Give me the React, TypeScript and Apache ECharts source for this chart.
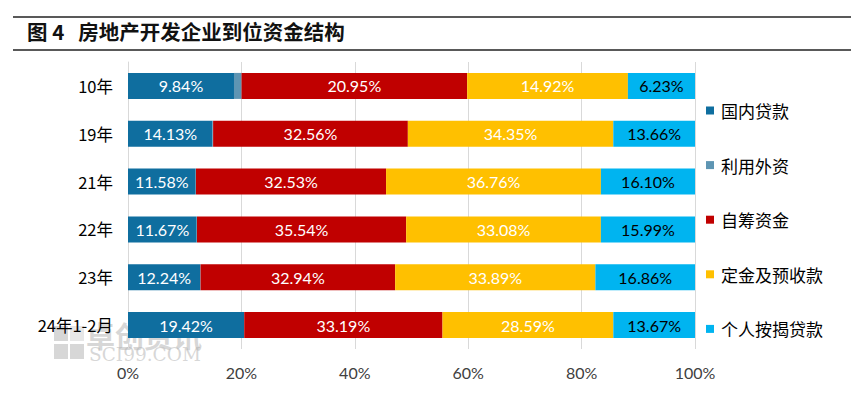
import React, { useEffect, useRef } from "react";
import * as echarts from "echarts";

const categories = ["10年", "19年", "21年", "22年", "23年", "24年1-2月"];
const seriesNames = ["国内贷款", "利用外资", "自筹资金", "定金及预收款", "个人按揭贷款"];
const domesticLoans = [9.84, 14.13, 11.58, 11.67, 12.24, 19.42];
const foreignCapital = [0.7, 0.1, 0.05, 0.05, 0.04, 0.03];
const selfRaised = [20.95, 32.56, 32.53, 35.54, 32.94, 33.19];
const deposits = [14.92, 34.35, 36.76, 33.08, 33.89, 28.59];
const mortgages = [6.23, 13.66, 16.1, 15.99, 16.86, 13.67];
const xTickLabels = ["0%", "20%", "40%", "60%", "80%", "100%"];

const colors = ["#0F6E9F", "#5E95B3", "#C00000", "#FFC000", "#00B4F0"];
const labelColors = ["#FFFFFF", "#FFFFFF", "#FFFFFF", "#FFFFFF", "#000000"];

export default function App() {
  const ref = useRef<HTMLDivElement>(null);
  useEffect(() => {
    if (!ref.current) return;
    const chart = echarts.init(ref.current, null, { renderer: "svg" });
    const raw = [domesticLoans, foreignCapital, selfRaised, deposits, mortgages];
    const totals = categories.map((_, i) => raw.reduce((s, arr) => s + arr[i], 0));
    const series = raw.map((arr, k) => ({
      name: seriesNames[k],
      type: "bar",
      stack: "total",
      barWidth: 26,
      z: 5,
      itemStyle: { color: colors[k] },
      data: arr.map((v, i) => ({ value: (v / totals[i]) * 100, raw: v })),
      label: {
        show: k !== 1,
        position: "inside",
        color: labelColors[k],
        fontFamily: "Lato",
        fontSize: 16,
        formatter: (p: any) => p.data.raw.toFixed(2) + "%",
      },
    }));
    const wm = "rgba(175,175,175,0.5)";
    chart.setOption({
      animation: false,
      textStyle: { fontFamily: "Lato" },
      grid: { left: 128, right: 169, top: 62, height: 287 },
      legend: {
        orient: "vertical",
        left: 706,
        top: 102,
        padding: 0,
        itemWidth: 8,
        itemHeight: 8,
        itemGap: 37.6,
        icon: "rect",
        textStyle: { fontFamily: "Noto Sans CJK SC", fontSize: 17, color: "#000", padding: [0, 0, 0, 2] },
        data: seriesNames,
      },
      xAxis: {
        type: "value",
        min: 0,
        max: 100,
        interval: 20,
        axisLine: { show: false },
        axisTick: { show: false },
        splitLine: { lineStyle: { color: "#D9D9D9", width: 1 } },
        axisLabel: {
          margin: 15,
          fontFamily: "Lato",
          fontSize: 16,
          color: "#404040",
          formatter: (v: number) => xTickLabels[Math.round(v / 20)],
        },
      },
      yAxis: {
        type: "category",
        inverse: true,
        data: categories,
        axisLine: { show: true, lineStyle: { color: "#D9D9D9" } },
        axisTick: { show: false },
        axisLabel: {
          margin: 15,
          fontFamily: "Noto Sans CJK SC",
          fontSize: 16.5,
          color: "#000",
        },
      },
      graphic: [
        { type: "line", z: 0, shape: { x1: 13, y1: 17, x2: 851, y2: 17 }, style: { stroke: "#222", lineWidth: 1.5 } },
        { type: "line", z: 0, shape: { x1: 13, y1: 50, x2: 851, y2: 50 }, style: { stroke: "#222", lineWidth: 1.5 } },
        {
          type: "text",
          left: 27,
          top: 21,
          style: {
            text: "图 4   房地产开发企业到位资金结构",
            fontFamily: "Noto Sans CJK SC",
            fontWeight: "bold",
            fontSize: 20.5,
            fill: "#111",
          },
        },
        {
          type: "text",
          left: 86,
          top: 320,
          z: 0,
          style: {
            text: "卓创资讯",
            fontFamily: "Noto Sans CJK SC",
            fontWeight: "bold",
            fontSize: 29,
            fill: wm,
          },
        },
        {
          type: "text",
          left: 89,
          top: 345,
          z: 0,
          style: {
            text: "SCI99.COM",
            fontFamily: "DejaVu Serif",
            fontSize: 18.5,
            fill: wm,
          },
        },
        { type: "rect", left: 54, top: 326, z: 0, shape: { width: 14, height: 15 }, style: { fill: wm } },
        { type: "rect", left: 54, top: 344, z: 0, shape: { width: 14, height: 15 }, style: { fill: wm } },
        { type: "rect", left: 70, top: 344, z: 0, shape: { width: 14, height: 15 }, style: { fill: wm } },
        { type: "rect", left: 70, top: 326, z: 0, shape: { width: 14, height: 15 }, style: { fill: "rgba(175,175,175,0.3)" } },
      ],
      series,
    });
    return () => chart.dispose();
  }, []);
  return <div ref={ref} style={{ width: 864, height: 397, position: "absolute", left: 0, top: 0 }} />;
}
